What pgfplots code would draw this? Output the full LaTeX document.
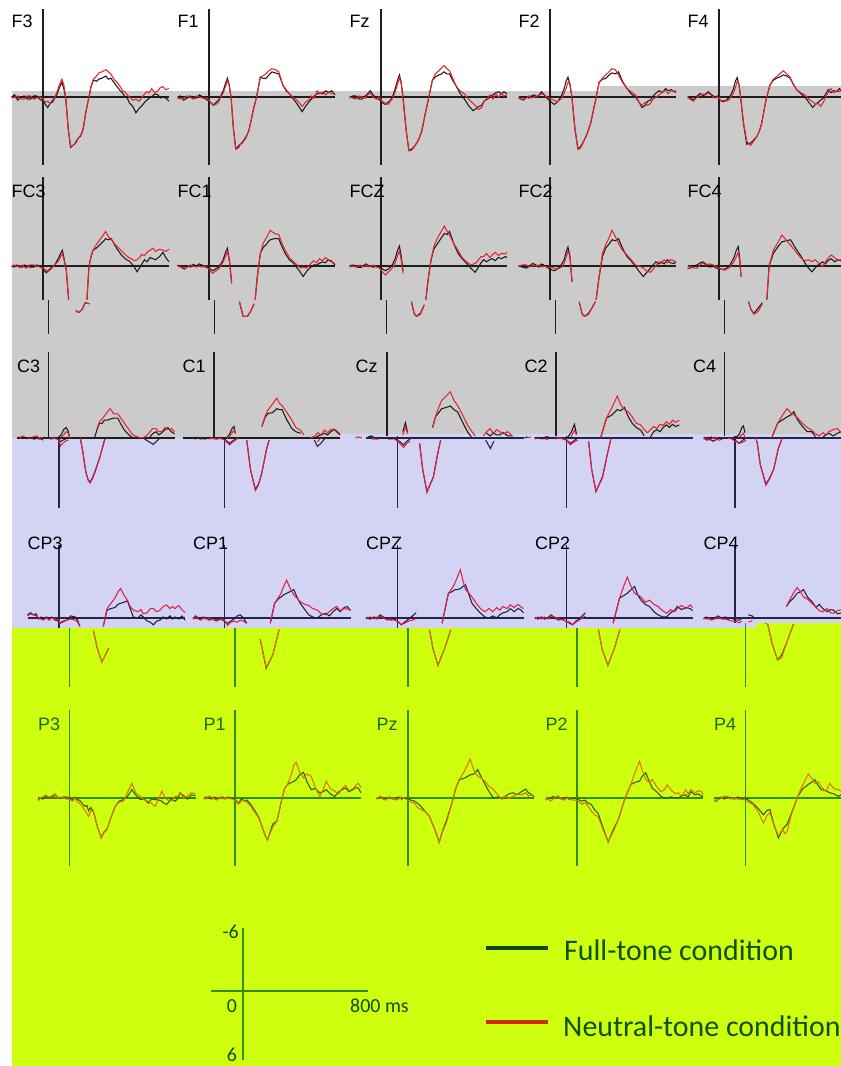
\documentclass[border=0pt]{standalone}
\usepackage{pgfplots}
\pgfplotsset{compat=1.18}
\usepackage{pgfplotstable}
\usepackage{fontspec}
\setmainfont{Liberation Sans}
\newfontfamily\calib{Carlito}

\definecolor{bgG}{RGB}{203,203,203}
\definecolor{bgL}{RGB}{211,211,243}
\definecolor{bgY}{RGB}{205,255,15}
\definecolor{gBk}{RGB}{25,25,25}
\definecolor{gRd}{RGB}{232,35,45}
\definecolor{gAx}{RGB}{30,30,30}
\definecolor{lBk}{RGB}{30,30,60}
\definecolor{lRd}{RGB}{226,30,70}
\definecolor{lAx}{RGB}{35,35,75}
\definecolor{yGn}{RGB}{35,100,0}
\definecolor{yOr}{RGB}{228,112,20}
\definecolor{yAx}{RGB}{50,140,0}
\definecolor{yTx}{RGB}{25,105,0}
\definecolor{lgGn}{RGB}{12,72,12}
\definecolor{lgRd}{RGB}{212,40,0}
\definecolor{lgTx}{RGB}{15,80,10}

% ---------------- row F ----------------
\pgfplotstableread{
t f n
-200 0.0 0.1
-180 -0.2 0.0
-160 0.3 -0.1
-140 0.0 0.2
-120 -0.1 0.2
-100 0.2 -0.1
-80 0.2 -0.1
-60 -0.1 0.2
-40 -0.1 0.1
-20 0.2 0.0
0 0.4 0.2
15 0.7 0.5
30 1.0 0.4
45 0.6 0.6
60 0.5 0.3
75 0.1 0.0
90 -0.3 -0.5
105 -0.9 -1.2
120 -1.4 -1.7
132 -0.8 -1.2
145 0.2 0.2
160 3.0 3.0
175 4.8 4.7
190 4.6 4.6
200 4.5 4.5
212 4.2 4.3
225 3.9 3.9
240 3.7 3.6
250 3.3 3.3
260 2.6 2.6
270 1.6 1.6
292 0.0 0.0
305 -1.0 -1.0
320 -1.6 -1.7
340 -1.5 -2.0
355 -1.7 -2.3
375 -1.8 -2.4
400 -2.0 -2.6
415 -1.7 -2.4
430 -1.8 -2.2
455 -1.3 -1.6
470 -1.0 -1.4
490 -0.6 -1.0
505 -0.4 -0.6
520 0.0 -0.5
535 0.1 -0.2
550 0.6 0.0
570 0.9 0.3
590 1.5 0.2
610 1.1 0.4
630 0.8 0.0
645 0.5 -0.3
660 0.3 -0.5
675 0.1 -0.4
690 0.0 -0.8
710 -0.3 -0.4
730 -0.2 -0.6
745 0.1 -0.9
760 0.0 -1.0
780 0.1 -0.7
800 0.4 -0.8
}\fA
\pgfplotstableread{
t f n
-200 0.0 0.1
-180 -0.1 0.2
-160 0.3 0.1
-140 0.1 -0.1
-120 -0.1 0.0
-100 0.1 0.2
-80 0.1 -0.1
-60 -0.2 0.0
-40 0.0 0.1
-20 0.2 0.1
0 0.4 0.3
15 0.6 0.6
30 0.8 0.7
45 0.5 0.7
60 0.3 0.5
75 -0.1 0.0
90 -0.6 -0.4
105 -1.3 -1.0
117 -1.8 -1.6
128 -1.2 -1.1
140 0.0 0.0
155 3.0 3.0
170 4.9 5.0
180 4.8 4.9
190 4.6 4.8
200 4.5 4.5
212 4.3 4.4
225 4.0 4.1
235 3.8 3.9
253 3.2 3.2
268 2.2 2.2
280 1.3 1.3
302 0.0 0.0
326 -1.9 -1.9
340 -1.8 -2.0
361 -1.75 -2.2
380 -2.1 -2.5
400 -2.4 -2.7
420 -2.3 -2.6
443 -2.2 -2.4
470 -1.1 -1.1
490 -0.6 -0.7
511 -0.3 -0.3
530 0.1 0.0
552 0.5 0.2
570 0.9 0.5
592 1.4 0.9
612 0.9 0.5
633 0.5 0.3
650 0.2 -0.1
668 -0.1 0.1
687 -0.3 -0.6
705 -0.4 -0.3
724 -0.3 -0.5
742 -0.6 -0.2
760 -0.4 -0.5
780 -0.6 -0.3
800 -0.2 -0.3
}\fB
\pgfplotstableread{
t f n
-200 0.1 0.0
-180 -0.1 0.1
-160 -0.1 0.2
-140 0.2 -0.1
-120 0.2 0.0
-100 -0.1 0.1
-85 -0.3 -0.2
-68 -0.6 -0.4
-50 -0.2 0.0
-30 0.1 0.2
-15 0.2 0.0
0 0.4 0.3
15 0.6 0.5
27 0.7 0.6
45 0.5 0.7
60 0.3 0.4
75 -0.1 0.1
90 -0.8 -0.5
105 -1.6 -1.2
117 -2.1 -1.85
128 -1.4 -1.3
140 0.0 0.2
160 3.2 3.2
177 5.1 5.1
188 5.0 5.1
200 4.9 5.0
217 4.6 4.6
230 4.3 4.3
240 4.0 4.0
258 3.3 3.3
270 2.4 2.4
285 1.3 1.3
304 0.0 0.0
326 -1.6 -1.6
345 -1.9 -2.2
367 -2.1 -2.5
385 -2.2 -2.8
400 -2.4 -3.0
418 -2.2 -2.7
435 -2.2 -2.5
455 -1.6 -1.8
475 -1.1 -1.1
500 -0.4 -0.6
530 0.2 -0.3
555 0.8 0.2
584 1.3 0.6
605 1.1 0.9
620 0.9 1.2
639 0.8 1.0
655 0.4 0.4
675 0.2 0.1
693 0.0 -0.2
710 -0.2 0.2
728 -0.4 -0.3
747 -0.5 0.0
765 -0.3 -0.3
780 -0.5 -0.1
800 -0.3 -0.2
}\fC
\pgfplotstableread{
t f n
-200 0.1 0.0
-185 0.2 0.2
-168 0.3 0.2
-150 0.0 0.1
-135 0.1 -0.1
-120 -0.1 0.1
-100 -0.2 0.0
-80 0.0 -0.1
-65 -0.3 -0.2
-54 -0.5 -0.3
-35 -0.2 -0.2
-20 0.1 0.0
0 0.4 0.2
27 0.7 0.3
45 0.5 0.5
60 0.2 0.3
75 -0.2 0.1
90 -0.8 -0.4
102 -1.5 -0.8
114 -1.9 -1.4
126 -1.2 -1.3
139 0.0 0.0
158 3.0 3.0
177 4.9 5.0
190 4.8 4.9
200 4.6 4.7
217 4.1 4.1
230 3.7 3.7
240 3.3 3.3
258 2.5 2.5
285 0.6 0.6
312 -1.4 -1.4
333 -1.7 -1.8
353 -1.75 -2.1
375 -2.1 -2.4
394 -2.3 -2.7
415 -2.2 -2.6
435 -2.4 -2.1
460 -1.5 -1.4
489 -0.8 -0.8
515 -0.3 -0.5
543 0.0 -0.2
565 0.5 0.5
584 1.0 0.8
605 0.8 0.5
620 0.4 0.8
638 0.3 0.6
655 -0.1 0.2
675 -0.4 0.0
693 -0.6 -0.2
712 -0.4 -0.5
734 -0.8 -0.6
750 -0.6 -0.3
770 -0.7 -0.6
788 -0.5 -0.5
800 -0.6 -0.4
}\fD
\pgfplotstableread{
t f n
-200 0.0 0.0
-185 0.1 0.2
-163 0.3 0.4
-145 0.0 0.1
-121 -0.35 -0.2
-100 -0.1 -0.3
-85 -0.3 -0.2
-68 -0.5 -0.4
-45 -0.2 -0.1
-25 0.0 0.1
-10 -0.1 0.0
0 0.2 0.1
15 0.4 0.4
27 0.45 0.3
45 0.3 0.4
60 0.1 0.3
75 -0.2 0.0
90 -0.7 -0.3
104 -1.5 -0.9
116 -1.85 -1.5
127 -1.1 -1.2
137 0.0 0.0
155 2.5 2.4
176 4.5 4.2
190 4.4 4.5
201 4.4 4.6
220 4.1 4.2
239 3.8 3.8
255 3.3 3.3
271 2.5 2.5
298 0.3 0.3
324 -1.15 -1.15
345 -1.6 -1.7
366 -1.8 -1.95
385 -1.9 -2.2
408 -2.1 -2.5
430 -2.0 -2.2
451 -1.8 -1.9
472 -1.2 -1.2
493 -0.7 -0.7
520 -0.3 -0.4
546 0.0 -0.2
570 0.5 0.2
595 1.0 0.45
612 0.7 0.7
630 0.5 0.6
645 0.3 0.9
662 0.1 0.5
678 -0.3 0.0
694 -0.7 -0.5
710 -0.4 -0.8
728 -0.6 -0.4
747 -0.5 -0.6
765 -0.8 -0.5
780 -0.5 -0.7
800 -0.3 -0.5
}\fE
% ---------------- row FC ----------------
\pgfplotstableread{
t f n
-200 0.0 0.1
-185 0.1 -0.1
-169 -0.1 0.0
-150 0.1 0.1
-130 0.1 -0.1
-118 -0.1 0.1
-106 0.0 0.2
-85 0.1 -0.1
-60 0.1 -0.1
-40 -0.1 0.0
-20 0.0 0.1
0 0.3 0.2
21 0.65 0.4
35 0.4 0.5
50 0.2 0.3
74 -0.1 -0.1
100 -0.8 -0.5
112 -1.2 -0.9
123 -1.5 -1.2
135 -0.6 -0.5
148 0.4 0.4
163 3.2 3.2
174 4.2 4.2
185 4.4 4.4
195 4.4 4.4
215 4.1 4.1
233 3.5 3.5
260 3.6 3.6
279 3.2 3.2
292 0.0 0.0
305 -0.9 -0.9
317 -1.5 -1.5
338 -1.7 -2.0
360 -2.0 -2.5
380 -2.3 -2.9
398 -2.6 -3.3
415 -2.5 -2.8
434 -2.6 -2.5
455 -2.0 -2.1
476 -1.5 -1.8
500 -1.0 -1.4
529 -0.6 -1.0
545 -0.5 -0.8
561 -0.25 -0.7
580 0.1 -0.5
597 0.55 -0.6
612 0.2 -0.8
628 -0.2 -1.1
645 -0.6 -1.0
660 -0.4 -1.3
680 -0.8 -1.5
698 -0.7 -1.7
715 -0.6 -1.4
740 -0.9 -1.6
762 -1.3 -1.5
780 -0.8 -1.4
800 -0.4 -1.6
}\gA
\pgfplotstableread{
t f n
-200 -0.1 0.0
-180 0.1 0.1
-155 0.3 0.2
-135 0.0 0.1
-118 0.1 -0.1
-100 -0.15 0.0
-80 0.0 0.1
-62 -0.2 0.0
-46 -0.1 0.1
-25 0.1 0.0
0 0.2 0.3
22 0.45 0.7
40 0.3 0.5
60 0.1 0.3
75 -0.2 0.0
90 -0.6 -0.4
105 -1.3 -0.9
117 -1.7 -1.4
130 -0.5 -0.4
144 1.65 1.65
158 3.4 3.4
182 4.8 4.8
209 4.8 4.8
230 4.3 4.3
251 3.6 3.6
293 3.2 3.2
307 1.0 1.0
326 -1.2 -1.2
345 -1.8 -2.2
361 -2.0 -2.6
375 -2.3 -3.0
389 -2.5 -3.4
415 -2.6 -3.1
443 -2.6 -3.0
462 -1.9 -2.2
484 -1.2 -1.5
510 -0.6 -0.8
538 -0.25 -0.4
560 0.2 -0.1
580 0.6 0.2
598 1.0 0.1
620 0.5 0.2
647 0.1 -0.25
665 -0.1 -0.5
685 -0.1 -0.3
701 -0.25 -0.7
720 -0.4 -0.5
740 -0.3 -0.8
755 -0.6 -0.6
775 -0.5 -0.4
800 -0.1 -0.25
}\gB
\pgfplotstableread{
t f n
-200 0.0 0.1
-177 -0.1 0.0
-155 0.1 0.1
-130 0.15 -0.1
-112 -0.05 0.1
-95 -0.2 -0.1
-75 0.0 0.1
-50 0.1 -0.1
-27 0.05 0.1
-10 0.1 0.2
0 0.2 0.4
27 0.45 0.85
45 0.3 0.6
60 0.1 0.4
75 -0.2 0.1
90 -0.7 -0.3
105 -1.5 -1.0
117 -1.9 -1.45
128 -1.0 -0.6
140 0.5 0.7
158 3.4 3.4
175 4.5 4.5
190 4.8 4.8
215 4.5 4.6
240 3.7 3.7
285 3.2 3.2
300 1.2 1.2
318 -0.6 -0.6
335 -1.6 -1.8
353 -2.0 -2.5
375 -2.5 -3.1
402 -3.1 -3.8
420 -3.0 -3.3
435 -3.3 -2.95
460 -2.2 -2.2
489 -1.2 -1.5
515 -0.7 -0.8
543 -0.25 -0.4
570 0.2 -0.1
598 0.6 -0.25
615 0.2 -0.5
635 -0.3 -0.9
652 -0.6 -0.9
670 -0.4 -1.2
690 -0.6 -0.8
706 -0.7 -1.05
725 -0.5 -1.3
745 -0.8 -1.0
765 -0.7 -1.2
788 -0.9 -1.15
800 -0.8 -1.3
}\gC
\pgfplotstableread{
t f n
-200 0.0 0.0
-175 0.1 -0.1
-150 0.2 -0.1
-130 0.0 0.1
-109 -0.25 -0.1
-90 -0.1 0.0
-70 0.1 -0.1
-55 -0.2 0.1
-41 -0.1 0.0
-20 0.1 0.1
0 0.3 0.1
27 0.45 0.2
45 0.3 0.3
60 0.1 0.2
75 -0.2 0.1
90 -0.6 -0.3
102 -1.3 -0.8
114 -1.8 -1.4
126 -1.0 -1.0
140 1.5 1.5
150 3.4 3.4
170 4.6 4.6
185 4.8 4.8
210 4.5 4.6
235 3.9 3.9
253 3.4 3.4
293 3.2 3.2
312 1.0 1.0
333 -0.9 -1.2
353 -1.7 -2.0
375 -2.1 -2.7
394 -2.5 -3.4
415 -2.4 -2.8
435 -2.6 -2.15
460 -1.7 -1.5
489 -0.9 -1.05
515 -0.5 -0.6
543 0.05 -0.1
565 0.5 0.0
592 1.0 0.2
615 0.6 0.5
638 0.2 0.6
655 -0.1 0.3
672 -0.4 0.0
690 -0.2 -0.4
706 -0.4 -0.25
725 -0.2 -0.6
745 -0.6 -0.3
765 -0.3 -0.6
788 -0.25 -0.5
800 -0.4 -0.4
}\gD
\pgfplotstableread{
t f n
-200 0.2 0.1
-185 0.2 0.0
-160 0.0 0.2
-140 -0.1 0.2
-120 -0.3 -0.1
-103 -0.4 -0.3
-85 -0.2 -0.1
-60 0.1 -0.2
-35 0.05 -0.1
-15 0.2 0.1
0 0.3 0.2
33 0.3 0.4
50 0.2 0.3
70 -0.1 0.1
95 -0.8 -0.4
110 -1.5 -0.9
122 -1.85 -1.3
131 -0.8 -0.5
140 1.0 1.0
152 3.4 3.4
170 4.2 4.2
187 4.5 4.6
215 4.0 4.3
240 3.5 3.6
304 3.2 3.2
318 0.0 0.0
345 -1.2 -1.5
372 -1.8 -2.2
399 -2.3 -2.95
425 -2.4 -2.5
454 -2.5 -2.0
490 -1.6 -1.3
522 -0.9 -0.75
545 -0.3 -0.5
568 0.2 -0.6
590 0.55 -0.4
610 0.2 -0.6
630 -0.1 -0.3
658 -0.4 0.05
675 -0.2 -0.4
690 -0.5 -0.7
712 -0.7 -1.05
735 -0.4 -0.8
755 -0.6 -0.5
774 -0.5 -0.6
800 -0.6 -0.5
}\gE
% ---------------- row C ----------------
\pgfplotstableread{
t f n
-200 0.0 0.1
-184 -0.1 0.0
-165 0.1 -0.2
-150 0.1 -0.1
-135 -0.1 0.1
-121 0.05 0.1
-100 0.2 -0.1
-78 -0.1 -0.2
-55 0.1 0.0
-36 0.05 0.0
-15 -0.1 0.1
0 0.1 0.2
10 0.35 0.76
25 0.2 0.5
40 0.1 0.3
60 0.0 0.2
80 -0.3 -0.1
96 -0.8 -0.3
112 -1.0 -0.6
124 -0.7 -0.5
135 0.0 0.0
150 1.2 1.2
170 3.2 3.2
185 4.0 4.0
197 4.2 4.3
212 3.8 3.9
228 3.2 3.3
260 1.8 1.8
292 0.0 0.1
310 -0.9 -1.0
324 -1.4 -1.55
340 -1.4 -1.8
355 -1.7 -2.1
375 -1.7 -2.5
391 -1.8 -2.8
415 -1.9 -2.3
440 -1.9 -2.3
460 -1.3 -1.9
482 -0.75 -1.4
510 -0.3 -0.8
535 0.0 -0.3
565 0.3 -0.1
599 0.6 0.0
620 0.3 -0.2
640 0.0 -0.5
660 -0.4 -0.9
683 -0.6 -0.9
700 -0.3 -0.6
720 -0.5 -0.6
740 -0.8 -1.0
757 -1.0 -0.8
780 -0.6 -0.9
800 -0.4 -0.6
}\cA
\pgfplotstableread{
t f n
-200 0.0 0.1
-180 0.1 -0.05
-160 -0.05 0.1
-144 0.05 0.1
-120 0.1 -0.05
-100 -0.1 0.1
-76 0.05 0.0
-50 0.1 0.1
-22 -0.05 0.05
0 0.1 0.2
15 0.3 0.4
33 0.5 0.65
50 0.3 0.4
70 0.1 0.2
85 -0.1 0.0
100 -0.4 -0.2
115 -0.9 -0.5
127 -1.1 -0.75
135 -0.5 -0.4
141 0.2 0.2
165 3.0 3.0
196 4.9 5.0
215 4.4 4.5
236 3.4 3.4
265 1.2 1.2
283 0.2 0.2
304 -1.1 -1.1
325 -2.0 -2.1
345 -2.35 -2.7
370 -2.4 -3.2
399 -2.8 -3.8
415 -2.7 -3.3
432 -2.7 -3.1
460 -1.8 -2.5
494 -0.9 -1.7
520 -0.6 -1.0
549 -0.45 -0.75
570 0.2 -0.3
590 0.8 0.35
612 0.5 0.0
640 0.0 -0.2
660 -0.2 -0.5
680 -0.3 -0.3
701 -0.45 -0.75
720 -0.3 -0.5
740 -0.6 -0.8
766 -0.8 -0.85
785 -0.5 -0.6
800 -0.3 -0.4
}\cB
\pgfplotstableread{
t f n
-200 0.1 0.0
-182 -0.1 -0.1
-160 0.1 0.0
-140 0.05 0.1
-120 -0.1 0.1
-100 -0.2 -0.1
-75 0.0 0.1
-50 0.1 -0.1
-19 0.05 0.1
0 0.2 0.3
20 0.4 0.6
38 0.65 0.9
60 0.3 0.5
80 0.1 0.3
100 -0.6 -0.3
117 -1.45 -1.1
130 -0.6 -0.4
140 0.5 0.5
160 3.0 3.0
187 5.1 5.2
228 3.7 3.7
255 1.5 1.5
274 0.2 0.2
290 -1.0 -1.0
307 -2.0 -2.0
328 -2.4 -2.9
348 -2.8 -3.6
375 -2.9 -4.0
402 -3.05 -4.4
425 -2.7 -3.6
448 -2.5 -3.1
480 -1.5 -2.2
511 -0.6 -1.25
535 -0.1 -0.7
560 0.2 -0.2
590 1.0 0.3
612 0.3 -0.2
633 -0.45 -0.6
655 -0.2 -0.9
675 -0.5 -0.4
695 -0.3 -0.8
715 -0.3 -0.6
740 -0.5 -0.4
765 -0.2 -0.6
796 -0.2 -0.2
}\cC
\pgfplotstableread{
t f n
-200 0.0 0.1
-180 -0.1 0.0
-160 0.1 -0.1
-137 0.0 0.1
-114 -0.05 0.1
-90 0.1 -0.1
-70 -0.1 0.1
-46 -0.1 0.0
-20 0.1 0.1
0 0.2 0.2
24 0.5 0.65
45 0.3 0.4
70 0.0 0.2
95 -0.5 -0.1
117 -1.3 -0.75
130 -0.4 -0.3
140 0.3 0.3
160 3.0 3.0
187 5.1 5.1
228 3.7 3.8
260 1.5 1.5
283 0.0 0.0
321 -1.9 -1.9
355 -2.2 -2.9
389 -2.7 -4.0
410 -2.6 -3.2
435 -2.9 -2.7
460 -2.0 -2.5
484 -1.4 -2.0
510 -1.0 -1.4
538 -0.75 -1.25
560 -0.2 -0.8
581 0.3 -0.5
600 -0.1 -0.8
620 -0.6 -1.1
640 -0.8 -0.9
660 -0.6 -1.3
680 -1.0 -1.2
701 -1.25 -1.55
720 -1.0 -1.3
740 -1.3 -1.7
760 -1.1 -1.5
783 -1.25 -1.7
}\cD
\pgfplotstableread{
t f n
-200 0.0 0.0
-180 0.2 0.1
-160 0.1 0.2
-140 0.3 0.0
-125 0.2 0.1
-100 0.0 0.2
-80 -0.1 0.1
-60 0.1 -0.1
-43 -0.1 0.0
-20 0.1 0.1
0 0.2 0.3
27 0.5 0.5
50 0.2 0.4
70 0.0 0.2
95 -0.4 -0.1
110 -1.0 -0.3
120 -1.15 -0.45
130 -0.5 0.0
140 0.3 0.4
160 2.5 2.5
196 4.4 4.5
220 3.8 3.9
245 3.0 3.0
275 1.0 1.0
299 0.0 0.0
337 -1.4 -1.4
365 -1.7 -2.1
397 -2.0 -2.8
420 -2.2 -2.4
440 -2.5 -2.2
465 -1.7 -1.9
495 -1.1 -1.4
525 -0.6 -1.0
554 -0.6 -0.75
578 -0.1 -0.4
600 0.3 -0.2
625 -0.1 -0.5
645 -0.3 -0.3
663 -0.45 -0.6
690 -0.2 -0.8
717 -0.45 -0.9
740 -0.6 -0.5
760 -0.3 -0.7
780 -0.5 -0.4
800 -0.3 -0.5
}\cE
% ---------------- row CP ----------------
\pgfplotstableread{
t f n
-200 -0.3 -0.2
-180 -0.5 -0.4
-163 -0.3 -0.3
-145 -0.4 -0.2
-130 0.1 0.0
-115 -0.1 0.1
-99 0.1 0.2
-80 -0.1 0.0
-62 0.1 0.2
-47 -0.1 0.0
-25 0.2 0.1
0 0.3 0.2
6 0.5 0.5
25 0.3 0.4
49 0.2 0.2
75 -0.2 0.1
102 -0.1 0.2
118 0.2 0.4
133 0.8 0.8
152 1.2 1.2
175 2.8 2.8
205 4.2 4.2
225 3.6 3.6
248 2.9 2.9
281 0.8 0.8
305 -0.75 -0.9
330 -0.9 -1.4
355 -1.0 -1.9
375 -1.3 -2.5
391 -1.4 -2.8
412 -1.5 -2.2
434 -1.65 -1.7
452 -0.9 -1.1
472 -0.1 -0.75
500 0.0 -0.6
520 -0.3 -0.8
535 -0.1 -0.4
560 0.3 -0.5
580 0.4 -0.9
599 0.65 -0.9
620 0.3 -0.6
641 0.2 -0.75
662 -0.1 -1.1
683 0.1 -1.25
705 -0.2 -0.9
720 0.1 -1.1
736 -0.1 -0.9
760 0.1 -1.2
780 -0.2 -0.8
800 0.2 -0.5
}\dA
\pgfplotstableread{
t f n
-200 0.1 0.1
-185 -0.2 -0.1
-165 0.0 0.1
-150 0.1 0.2
-135 -0.1 0.0
-117 0.0 0.1
-95 0.2 0.0
-70 0.0 0.2
-49 0.2 0.3
-25 0.1 0.1
0 0.3 0.2
19 0.5 0.7
40 0.3 0.4
60 0.1 0.3
80 -0.2 0.4
100 -0.3 0.2
120 0.0 0.3
141 0.5 0.5
160 2.0 2.0
198 4.8 4.7
240 3.5 3.5
280 1.1 1.1
291 0.5 0.5
318 -1.4 -1.4
340 -1.8 -1.9
359 -2.0 -2.35
375 -2.2 -3.0
394 -2.35 -3.6
415 -2.5 -2.9
440 -2.7 -2.2
460 -2.0 -1.9
481 -1.4 -1.55
510 -0.8 -1.3
535 -0.3 -1.2
560 -0.1 -0.9
590 0.0 -0.75
615 -0.3 -0.4
644 -0.45 -0.3
665 -0.2 -0.6
690 -0.6 -0.9
712 -0.9 -1.1
735 -0.6 -0.7
760 -1.0 -0.9
780 -1.1 -0.85
800 -0.7 -0.8
}\dB
\pgfplotstableread{
t f n
-200 0.0 0.1
-175 0.1 -0.1
-150 -0.1 0.0
-130 0.0 0.1
-111 -0.3 -0.2
-90 -0.1 0.0
-65 0.1 0.2
-43 0.2 0.1
-20 0.1 0.2
0 0.3 0.3
24 0.65 0.6
45 0.4 0.5
70 0.1 0.3
95 -0.2 0.2
119 -0.5 0.05
136 1.1 1.1
160 3.0 3.0
190 4.5 4.5
230 3.0 3.0
272 1.1 1.1
283 0.5 0.5
323 -2.35 -2.35
345 -2.5 -2.8
364 -2.7 -3.3
380 -2.7 -3.9
399 -2.8 -4.6
415 -3.0 -3.6
432 -3.15 -2.7
452 -2.3 -2.4
473 -1.4 -2.0
500 -0.9 -1.4
527 -0.45 -0.9
555 -0.1 -0.6
581 0.0 -0.9
605 -0.2 -0.6
630 0.0 -1.0
649 -0.3 -0.75
670 -0.5 -1.1
695 -0.6 -0.9
717 -0.9 -1.25
740 -0.6 -1.0
765 -0.9 -1.3
785 -0.75 -1.05
800 -0.5 -0.9
}\dC
\pgfplotstableread{
t f n
-200 0.0 0.1
-180 0.1 -0.1
-160 -0.1 0.1
-140 0.1 -0.1
-120 0.0 0.1
-98 -0.3 -0.2
-75 0.0 -0.1
-50 0.2 0.1
-30 0.1 0.15
0 0.3 0.3
20 0.5 0.4
38 0.65 0.6
60 0.3 0.4
80 0.1 0.2
100 -0.2 0.0
120 -0.5 -0.2
136 1.1 1.1
160 3.0 3.0
196 4.5 4.5
235 3.0 3.0
272 1.1 1.1
296 0.5 0.5
337 -1.9 -1.9
360 -2.1 -2.9
386 -2.35 -3.9
410 -2.7 -3.0
432 -3.0 -2.35
452 -2.2 -2.2
473 -1.7 -2.0
500 -1.3 -1.5
527 -1.1 -1.7
555 -0.6 -1.3
581 -0.3 -1.1
610 -0.1 -0.7
636 -0.1 -0.45
660 -0.5 -0.8
685 -0.7 -0.6
704 -1.1 -0.9
730 -0.8 -1.2
760 -1.0 -0.9
785 -0.9 -1.25
800 -0.7 -1.0
}\dD
\pgfplotstableread{
t f n
-200 0.1 0.0
-180 -0.1 0.1
-165 0.1 0.0
-150 0.1 0.2
-130 0.0 0.1
-109 -0.2 -0.1
-85 0.0 0.1
-60 -0.1 0.1
-41 0.1 0.2
-20 0.0 0.3
0 0.2 0.3
27 0.2 0.45
45 0.0 0.3
60 0.5 0.6
85 -0.3 0.4
109 -0.2 0.25
125 0.1 0.5
141 0.6 0.6
170 2.5 2.5
204 4.0 4.0
230 3.5 3.8
260 2.4 2.4
304 0.6 0.6
326 -1.1 -1.1
350 -1.6 -1.8
372 -1.9 -2.4
394 -2.35 -2.9
415 -2.5 -2.5
435 -2.7 -2.0
460 -2.0 -1.8
489 -1.55 -1.4
515 -1.0 -1.0
535 -1.3 -0.7
557 -0.9 -0.6
585 -0.6 -0.9
605 -0.8 -0.5
625 -0.75 -0.45
650 -0.4 -0.7
680 -0.5 -0.8
710 -0.3 -0.5
740 -0.6 -0.4
}\dE
% ---------------- row P ----------------
\pgfplotstableread{
t f n
-200 0.2 0.3
-186 0.0 0.0
-170 0.1 -0.1
-150 -0.2 -0.3
-136 0.0 -0.1
-123 -0.15 -0.1
-105 -0.1 -0.3
-90 -0.3 -0.4
-75 -0.1 0.0
-59 0.05 -0.1
-40 -0.1 0.0
-20 -0.1 0.1
0 0.0 0.1
20 0.2 0.3
33 -0.1 0.0
47 0.1 0.3
70 0.3 0.6
85 0.6 0.9
99 0.8 1.2
110 0.7 1.5
121 1.2 1.75
135 0.9 1.2
152 1.3 1.3
175 2.6 2.6
201 3.8 3.8
220 3.2 3.3
237 3.0 3.0
265 1.8 1.8
290 0.8 0.8
315 0.3 0.4
343 0.15 0.3
370 -0.2 -0.6
396 -0.8 -1.4
420 -0.3 -0.5
449 0.15 -0.15
475 0.1 0.2
501 0.5 0.3
520 0.1 0.5
544 0.15 0.8
566 0.2 0.1
586 0.3 -0.65
600 0.5 -0.2
618 0.6 0.15
645 0.1 0.3
671 0.3 -0.15
690 0.0 -0.2
702 -0.5 -0.5
725 -0.2 0.0
750 0.1 -0.2
775 -0.3 -0.5
800 -0.2 -0.4
}\pA
\pgfplotstableread{
t f n
-200 0.1 0.0
-182 -0.1 0.1
-165 0.0 -0.2
-150 0.1 -0.1
-132 -0.1 0.1
-114 0.1 0.2
-95 0.0 -0.1
-80 -0.1 0.1
-62 0.1 0.0
-46 -0.1 0.0
-20 0.0 0.1
0 0.1 0.2
22 0.5 0.6
40 0.1 0.3
60 0.3 0.2
76 0.2 0.4
100 0.6 0.8
130 1.3 1.45
150 1.8 1.9
171 2.7 2.7
190 3.5 3.5
206 4.0 4.0
222 3.3 3.4
239 2.5 2.8
266 2.2 2.2
299 0.0 0.0
315 -0.9 -0.9
334 -1.3 -1.3
360 -1.5 -2.4
375 -1.6 -3.2
389 -1.75 -3.4
410 -2.2 -2.5
435 -2.45 -1.9
458 -1.5 -2.3
484 -0.8 -2.05
510 -0.9 -1.0
538 -0.5 -0.15
560 -0.6 -0.8
579 -0.8 -1.6
605 -0.4 -0.9
633 -0.15 -0.65
660 -0.6 -0.4
680 -0.8 -0.9
701 -0.95 -1.2
725 -0.6 -0.7
750 -0.8 -0.9
765 -1.0 -1.2
783 -0.95 -1.4
800 -0.5 -1.0
}\pB
\pgfplotstableread{
t f n
-200 0.1 0.0
-177 -0.15 -0.1
-160 0.0 0.1
-140 0.1 0.2
-118 -0.1 -0.1
-95 0.1 0.0
-78 0.1 0.2
-60 -0.1 0.1
-40 0.1 -0.1
-27 0.0 0.0
0 0.1 0.2
20 0.2 0.4
41 0.3 0.5
60 0.5 0.9
82 0.8 1.1
110 1.3 1.3
136 1.75 1.75
170 3.0 3.0
198 4.2 4.2
220 3.1 3.2
245 2.1 2.3
285 0.15 0.15
305 -1.0 -1.0
326 -1.75 -1.75
360 -1.9 -2.6
394 -2.2 -3.7
420 -2.3 -2.6
443 -2.7 -2.1
465 -2.0 -1.9
489 -1.3 -1.6
515 -0.6 -1.1
543 0.0 -0.8
570 -0.1 -0.3
598 0.0 0.15
620 -0.2 -0.2
640 -0.4 0.0
666 -0.5 -0.15
690 -0.3 -0.4
720 -0.6 -0.3
747 -0.85 -0.5
765 -0.5 -0.2
788 -0.3 -0.3
800 -0.1 -0.2
}\pC
\pgfplotstableread{
t f n
-200 0.1 0.2
-187 0.1 0.0
-170 0.0 0.3
-150 -0.15 0.1
-135 0.0 -0.1
-120 -0.15 -0.2
-100 0.1 0.1
-80 0.05 0.2
-65 -0.1 0.0
-52 0.15 0.1
-25 0.0 0.2
0 0.1 0.2
30 0.3 0.6
50 0.2 0.4
70 0.5 0.8
90 0.6 1.2
111 1.1 1.6
135 1.5 1.8
160 2.6 2.8
198 4.2 4.2
230 3.0 3.2
261 2.1 2.1
302 0.15 0.15
342 -1.3 -1.3
370 -1.5 -2.5
397 -1.6 -3.5
415 -2.1 -2.6
437 -2.4 -1.75
458 -1.6 -1.5
478 -0.95 -1.75
505 -0.6 -1.1
533 -0.15 -0.6
555 0.0 -0.8
573 0.0 -1.25
600 -0.1 -0.7
625 0.0 -0.4
641 0.0 -0.5
665 -0.2 -0.2
690 -0.3 -0.8
705 -0.1 -0.4
723 -0.6 -0.8
750 -0.3 -0.5
770 -0.4 -0.7
791 -0.15 -0.6
800 -0.2 -0.3
}\pD
\pgfplotstableread{
t f n
-200 0.3 0.2
-185 0.3 0.2
-165 0.0 0.1
-150 -0.1 0.0
-133 0.1 -0.2
-117 -0.15 -0.1
-95 0.0 0.1
-70 0.1 0.0
-50 -0.1 0.1
-35 0.0 0.1
0 0.1 0.2
20 0.2 0.4
46 0.5 0.6
80 1.0 1.3
114 1.6 2.4
135 1.2 1.7
155 1.1 1.4
180 2.5 2.6
209 3.8 3.6
235 3.0 3.0
250 2.7 3.4
264 2.5 3.2
285 1.7 1.9
304 1.0 1.0
331 -0.15 -0.15
365 -0.9 -1.3
399 -1.3 -2.3
420 -1.5 -1.9
440 -1.75 -1.4
460 -1.2 -1.6
481 -0.8 -1.1
510 -0.7 -0.6
535 -0.5 -1.4
560 -0.4 -0.9
590 -0.15 -0.8
615 -0.4 -0.6
640 -0.3 -1.0
670 -0.5 -0.6
700 -0.1 -0.5
720 -0.3 -0.8
740 0.0 -0.6
}\pE

% waveform pair: #1 table, #2 x of 0 ms, #3 y of 0 uV, #4 #5 colours, #6:#7 visible pixel rows
\newcommand{\wave}[7]{%
\addplot[color=#4, line width=1.05pt, restrict y to domain=#6:#7] table[x expr=#2+0.1575*\thisrow{t}, y expr=#3+10.5*\thisrow{f}] {#1};
\addplot[color=#5, line width=1.05pt, restrict y to domain=#6:#7] table[x expr=#2+0.1575*\thisrow{t}, y expr=#3+10.5*\thisrow{n}] {#1};
}
\newcommand{\seg}[5]{\addplot[color=#5, line width=1.3pt] coordinates {(#1,#2) (#3,#4)};}
\newcommand{\lab}[4]{\node[anchor=west, inner sep=0pt, text=#4, font=\fontsize{18}{20}\selectfont] at (axis cs:#1,#2) {#3};}

\begin{document}
\begin{tikzpicture}
\useasboundingbox (0,0) rectangle (841bp,1066bp);
\clip (0,0) rectangle (841bp,1066bp);
\begin{axis}[at={(0,0)}, anchor=south west, width=841bp, height=1066bp, scale only axis,
  xmin=0, xmax=841, ymin=0, ymax=1066, y dir=reverse, hide axis, clip=true,
  unbounded coords=jump]
% backgrounds
\addplot[draw=none, fill=white] coordinates {(0,0) (841,0) (841,1066) (0,1066)} -- cycle;
\addplot[draw=none, fill=bgG] coordinates {(12,91) (600,91) (600,86) (841,86) (841,434) (340,434) (340,438) (12,438)} -- cycle;
\addplot[draw=none, fill=bgL] coordinates {(12,438) (340,438) (340,434) (841,434) (841,623) (756,623) (756,628) (12,628)} -- cycle;
\addplot[draw=none, fill=bgY] coordinates {(12,628) (756,628) (756,623) (841,623) (841,1066) (12,1066)} -- cycle;

% ---- row F ----
\seg{43}{9}{43}{165}{gAx}\seg{11.5}{97}{169}{97}{gAx}
\seg{209}{9}{209}{165}{gAx}\seg{177.5}{97}{335}{97}{gAx}
\seg{381}{9}{381}{165}{gAx}\seg{349.5}{97}{507}{97}{gAx}
\seg{550}{9}{550}{165}{gAx}\seg{518.5}{97}{676}{97}{gAx}
\seg{719}{9}{719}{165}{gAx}\seg{687.5}{97}{845}{97}{gAx}
\wave{\fA}{43}{97}{gBk}{gRd}{-100}{2000}
\wave{\fB}{209}{97}{gBk}{gRd}{-100}{2000}
\wave{\fC}{381}{97}{gBk}{gRd}{-100}{2000}
\wave{\fD}{550}{97}{gBk}{gRd}{-100}{2000}
\wave{\fE}{719}{97}{gBk}{gRd}{-100}{2000}
\lab{11.5}{21}{F3}{black}\lab{177.5}{21}{F1}{black}\lab{349.5}{21}{Fz}{black}\lab{518.5}{21}{F2}{black}\lab{687.5}{21}{F4}{black}

% ---- row FC ----
\seg{43}{177}{43}{300}{gAx}\seg{48.5}{300}{48.5}{334}{gAx}\seg{11.5}{266}{169}{266}{gAx}
\seg{209}{177}{209}{300}{gAx}\seg{214.5}{300}{214.5}{334}{gAx}\seg{177.5}{266}{335}{266}{gAx}
\seg{381}{177}{381}{300}{gAx}\seg{386.5}{300}{386.5}{334}{gAx}\seg{349.5}{266}{507}{266}{gAx}
\seg{550}{177}{550}{300}{gAx}\seg{555.5}{300}{555.5}{334}{gAx}\seg{518.5}{266}{676}{266}{gAx}
\seg{719}{177}{719}{300}{gAx}\seg{724.5}{300}{724.5}{334}{gAx}\seg{687.5}{266}{845}{266}{gAx}
\wave{\gA}{43}{266}{gBk}{gRd}{-100}{300}\wave{\gA}{48.5}{266}{gBk}{gRd}{300}{2000}
\wave{\gB}{209}{266}{gBk}{gRd}{-100}{300}\wave{\gB}{214.5}{266}{gBk}{gRd}{300}{2000}
\wave{\gC}{381}{266}{gBk}{gRd}{-100}{300}\wave{\gC}{386.5}{266}{gBk}{gRd}{300}{2000}
\wave{\gD}{550}{266}{gBk}{gRd}{-100}{300}\wave{\gD}{555.5}{266}{gBk}{gRd}{300}{2000}
\wave{\gE}{719}{266}{gBk}{gRd}{-100}{300}\wave{\gE}{724.5}{266}{gBk}{gRd}{300}{2000}
\lab{11.5}{191}{FC3}{black}\lab{177.5}{191}{FC1}{black}\lab{349.5}{191}{FCZ}{black}\lab{518.5}{191}{FC2}{black}\lab{687.5}{191}{FC4}{black}

% ---- row C ----
\seg{48.5}{352}{48.5}{438}{gAx}\seg{59}{438}{59}{508}{lAx}\seg{17}{438}{174.5}{438}{gAx}
\seg{214}{352}{214}{438}{gAx}\seg{224.5}{438}{224.5}{508}{lAx}\seg{182.5}{438}{340}{438}{gAx}
\seg{387}{352}{387}{436}{gAx}\seg{397.5}{436}{397.5}{508}{lAx}\seg{366}{438}{523.5}{438}{lAx}
\seg{556}{352}{556}{436}{gAx}\seg{566.5}{436}{566.5}{508}{lAx}\seg{535}{438}{692.5}{438}{lAx}
\seg{724.5}{352}{724.5}{436}{gAx}\seg{735}{436}{735}{508}{lAx}\seg{703.5}{438}{861}{438}{lAx}
\wave{\cA}{48.5}{438}{gBk}{gRd}{-100}{438.5}\wave{\cA}{59}{438}{lBk}{lRd}{437.5}{2000}
\wave{\cB}{214}{438}{gBk}{gRd}{-100}{438.5}\wave{\cB}{224.5}{438}{lBk}{lRd}{437.5}{2000}
\wave{\cC}{387}{438}{gBk}{gRd}{-100}{438.5}\wave{\cC}{397.5}{438}{lBk}{lRd}{437.5}{2000}
\wave{\cD}{556}{438}{gBk}{gRd}{-100}{438.5}\wave{\cD}{566.5}{438}{lBk}{lRd}{437.5}{2000}
\wave{\cE}{724.5}{438}{gBk}{gRd}{-100}{438.5}\wave{\cE}{735}{438}{lBk}{lRd}{437.5}{2000}
\lab{17}{366}{C3}{black}\lab{182.5}{366}{C1}{black}\lab{355.5}{366}{Cz}{black}\lab{524.5}{366}{C2}{black}\lab{693}{366}{C4}{black}

% ---- row CP ----
\seg{59}{545}{59}{628}{lAx}\seg{69.5}{628}{69.5}{687}{yAx}\seg{27.5}{618}{185}{618}{lAx}
\seg{224.5}{545}{224.5}{628}{lAx}\seg{235}{628}{235}{687}{yAx}\seg{193}{618}{350.5}{618}{lAx}
\seg{397.5}{545}{397.5}{628}{lAx}\seg{408}{628}{408}{687}{yAx}\seg{366}{618}{523.5}{618}{lAx}
\seg{566.5}{545}{566.5}{628}{lAx}\seg{577}{628}{577}{687}{yAx}\seg{535}{618}{692.5}{618}{lAx}
\seg{735}{545}{735}{623}{lAx}\seg{745.5}{623}{745.5}{687}{yAx}\seg{703.5}{618}{861}{618}{lAx}
\wave{\dA}{59}{618}{lBk}{lRd}{-100}{628}\wave{\dA}{69.5}{618}{yGn}{yOr}{628}{2000}
\wave{\dB}{224.5}{618}{lBk}{lRd}{-100}{628}\wave{\dB}{235}{618}{yGn}{yOr}{628}{2000}
\wave{\dC}{397.5}{618}{lBk}{lRd}{-100}{628}\wave{\dC}{408}{618}{yGn}{yOr}{628}{2000}
\wave{\dD}{566.5}{618}{lBk}{lRd}{-100}{628}\wave{\dD}{577}{618}{yGn}{yOr}{628}{2000}
\wave{\dE}{735}{618}{lBk}{lRd}{-100}{623}\wave{\dE}{745.5}{618}{yGn}{yOr}{623}{2000}
\lab{27.5}{543}{CP3}{black}\lab{193}{543}{CP1}{black}\lab{366}{543}{CPZ}{black}\lab{535}{543}{CP2}{black}\lab{703.5}{543}{CP4}{black}

% ---- row P ----
\seg{69.5}{710}{69.5}{866}{yAx}\seg{38}{798}{195.5}{798}{yAx}
\seg{235}{710}{235}{866}{yAx}\seg{203.5}{798}{361}{798}{yAx}
\seg{408}{710}{408}{866}{yAx}\seg{376.5}{798}{534}{798}{yAx}
\seg{577}{710}{577}{866}{yAx}\seg{545.5}{798}{703}{798}{yAx}
\seg{745.5}{710}{745.5}{866}{yAx}\seg{714}{798}{871.5}{798}{yAx}
\wave{\pA}{69.5}{798}{yGn}{yOr}{-100}{2000}
\wave{\pB}{235}{798}{yGn}{yOr}{-100}{2000}
\wave{\pC}{408}{798}{yGn}{yOr}{-100}{2000}
\wave{\pD}{577}{798}{yGn}{yOr}{-100}{2000}
\wave{\pE}{745.5}{798}{yGn}{yOr}{-100}{2000}
\lab{38}{724}{P3}{yTx}\lab{203.5}{724}{P1}{yTx}\lab{376.5}{724}{Pz}{yTx}\lab{545.5}{724}{P2}{yTx}\lab{714}{724}{P4}{yTx}

% ---- scale bar ----
\seg{243}{928}{243}{1060}{yAx}
\seg{211}{991}{368}{991}{yAx}
\node[anchor=east, inner sep=0pt, text=lgTx, font=\calib\fontsize{20}{22}\selectfont] at (axis cs:239,932) {-6};
\node[inner sep=0pt, text=lgTx, font=\calib\fontsize{20}{22}\selectfont] at (axis cs:232,1006) {0};
\node[inner sep=0pt, text=lgTx, font=\calib\fontsize{20}{22}\selectfont] at (axis cs:232,1055) {6};
\node[anchor=west, inner sep=0pt, text=lgTx, font=\calib\fontsize{20}{22}\selectfont] at (axis cs:350,1006) {800 ms};

% ---- legend ----
\addplot[color=lgGn, line width=3.5pt] coordinates {(486,948) (548,948)};
\addplot[color=lgRd, line width=3.5pt] coordinates {(486,1022) (548,1022)};
\node[anchor=west, inner sep=0pt, text=lgTx, font=\calib\fontsize{30}{32}\selectfont] at (axis cs:564,950) {Full-tone condition};
\node[anchor=west, inner sep=0pt, text=lgTx, font=\calib\fontsize{30}{32}\selectfont] at (axis cs:563,1026) {Neutral-tone condition};
\end{axis}
\end{tikzpicture}
\end{document}
